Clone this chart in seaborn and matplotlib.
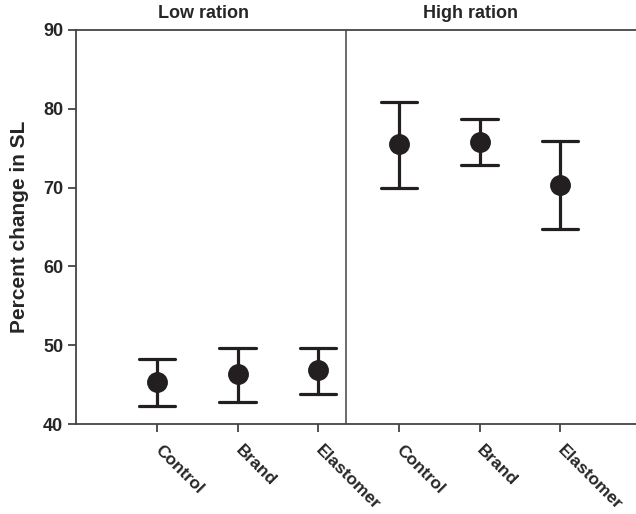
import pandas as pd
import numpy as np
import seaborn as sns
import matplotlib
matplotlib.use("Agg")
import matplotlib.pyplot as plt

# data
treatments = ["Control", "Brand", "Elastomer"]
rations = ["Low ration", "High ration"]
low_mean = [45.3, 46.3, 46.8]
low_lower = [42.3, 42.8, 43.8]
low_upper = [48.2, 49.7, 49.7]
high_mean = [75.5, 75.8, 70.3]
high_lower = [70.0, 72.9, 64.7]
high_upper = [80.8, 78.7, 75.9]
y_ticks = [40, 50, 60, 70, 80, 90]

# long table: lower / mean / upper per group -> median + full range
rows = []
for r, (m, lo, hi) in zip(rations, [(low_mean, low_lower, low_upper),
                                    (high_mean, high_lower, high_upper)]):
    for t, a, b, c in zip(treatments, lo, m, hi):
        for v in (a, b, c):
            rows.append({"group": r + "|" + t, "value": v})
df = pd.DataFrame(rows)
order = [r + "|" + t for r in rations for t in treatments]

sns.set_style("ticks")
plt.rcParams["font.family"] = ["Liberation Sans", "DejaVu Sans"]
plt.rcParams["font.weight"] = "bold"

dark = "#231f20"
fig = plt.figure(figsize=(6.36, 5.14), dpi=100)
ax = fig.add_axes([0.12, 0.175, 0.88, 0.767])

sns.pointplot(data=df, x="group", y="value", order=order,
              estimator="median", errorbar=("pi", 100),
              linestyle="none", color=dark, markers="o", markersize=13,
              capsize=0.45, err_kws={"linewidth": 2.3}, ax=ax)

ax.set_xlim(-1.0, 5.94)
ax.set_ylim(40, 90)
ax.set_yticks(y_ticks)
ax.set_yticklabels([str(v) for v in y_ticks], fontsize=13, fontweight="bold")
ax.set_xticks(range(6))
ax.set_xticklabels(treatments * 2, rotation=-45, ha="left", va="center",
                   rotation_mode="anchor", fontsize=12.5, fontweight="bold")
ax.tick_params(axis="both", direction="out", length=6, width=1.3, color="#444444")
ax.tick_params(axis="x", pad=11)
ax.set_xlabel("")
ax.set_ylabel("Percent change in SL", fontsize=15, fontweight="bold", labelpad=10)

for side in ["left", "bottom", "top"]:
    ax.spines[side].set_linewidth(1.3)
    ax.spines[side].set_color("#444444")
ax.spines["right"].set_visible(False)

ax.axvline(2.35, color="#444444", linewidth=1.1)

ax.text(0.58, 91.0, rations[0], ha="center", va="bottom", fontsize=13, fontweight="bold")
ax.text(3.89, 91.0, rations[1], ha="center", va="bottom", fontsize=13, fontweight="bold")

fig.savefig("out.png", dpi=100)
